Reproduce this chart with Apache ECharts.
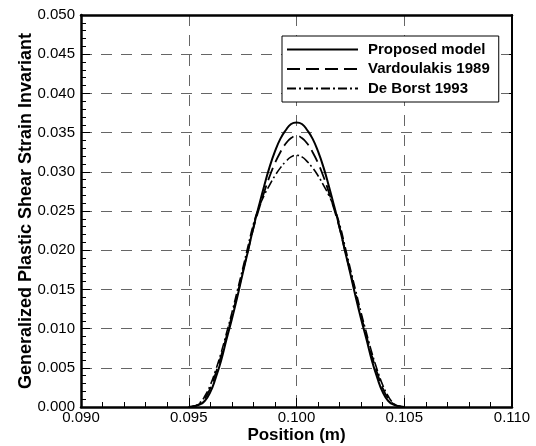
<!DOCTYPE html>
<html>
<head>
<meta charset="utf-8">
<script src="https://cdn.jsdelivr.net/npm/echarts@6/dist/echarts.min.js"></script>
<style>
  html, body { margin: 0; padding: 0; background: #fff; }
  #chart { width: 536px; height: 446px; }
</style>
</head>
<body>
<div id="chart"></div>
<script>
// position (m)
const positions = [
  0.095, 0.09525, 0.0955, 0.09575, 0.096, 0.09625, 0.0965, 0.09675, 0.097, 0.09725,
  0.0975, 0.09775, 0.098, 0.09825, 0.0985, 0.09875, 0.099, 0.09925, 0.0995, 0.09975,
  0.1, 0.10025, 0.1005, 0.10075, 0.101, 0.10125, 0.1015, 0.10175, 0.102, 0.10225,
  0.1025, 0.10275, 0.103, 0.10325, 0.1035, 0.10375, 0.104, 0.10425, 0.1045, 0.10475, 0.105
];
const proposed = [
  0, 0.0001, 0.0003, 0.0008, 0.0019, 0.0037, 0.0059, 0.0086, 0.0112, 0.0140,
  0.0170, 0.0199, 0.0229, 0.0256, 0.0282, 0.0306, 0.0326, 0.0342, 0.0353, 0.0361,
  0.0363, 0.0361, 0.0353, 0.0342, 0.0326, 0.0306, 0.0282, 0.0256, 0.0229, 0.0199,
  0.0170, 0.0140, 0.0112, 0.0086, 0.0059, 0.0037, 0.0019, 0.0008, 0.0003, 0.0001, 0
];
const vardoulakis = [
  0, 0.0001, 0.0004, 0.0011, 0.0024, 0.0043, 0.0065, 0.0090, 0.0116, 0.0143,
  0.0172, 0.0200, 0.0228, 0.0252, 0.0274, 0.0294, 0.0311, 0.0325, 0.0336, 0.0343,
  0.0346, 0.0343, 0.0336, 0.0325, 0.0311, 0.0294, 0.0274, 0.0252, 0.0228, 0.0200,
  0.0172, 0.0143, 0.0116, 0.0090, 0.0065, 0.0043, 0.0024, 0.0011, 0.0004, 0.0001, 0
];
const deBorst = [
  0, 0.0001, 0.0005, 0.0014, 0.0028, 0.0047, 0.0069, 0.0094, 0.0120, 0.0148,
  0.0176, 0.0205, 0.0233, 0.0254, 0.0270, 0.0283, 0.0295, 0.0305, 0.0313, 0.0319,
  0.0321, 0.0319, 0.0313, 0.0305, 0.0295, 0.0283, 0.0270, 0.0254, 0.0233, 0.0205,
  0.0176, 0.0148, 0.0120, 0.0094, 0.0069, 0.0047, 0.0028, 0.0014, 0.0005, 0.0001, 0
];
const seriesNames = ['Proposed model', 'Vardoulakis 1989', 'De Borst 1993'];

const font = '"Liberation Sans", Arial, Helvetica, sans-serif';

function pairs(ys) {
  return positions.map((x, i) => [x, ys[i]]);
}

function frameAxis(extra) {
  return Object.assign({
    type: 'value',
    axisLine: { show: true, onZero: false, lineStyle: { color: '#000', width: 2.5 } },
    axisTick: { show: true, inside: true, length: 9, lineStyle: { color: '#000', width: 1 } },
    minorTick: { show: true, splitNumber: 5, length: 5, lineStyle: { color: '#000', width: 1 } },
    splitLine: { show: false },
    axisLabel: { show: false }
  }, extra);
}

const gridDash = { color: '#666', width: 1, type: [11, 9] };

let option = {
  animation: false,
  backgroundColor: '#fff',
  grid: { left: 81, right: 24, top: 15, bottom: 39, outerBoundsMode: 'none' },
  legend: {
    orient: 'vertical',
    left: 282,
    top: 36,
    padding: [6, 9, 6, 4],
    itemGap: 4.5,
    itemWidth: 71,
    itemHeight: 14,
    borderColor: '#000',
    borderWidth: 1,
    backgroundColor: '#fff',
    itemStyle: { opacity: 0 },
    textStyle: { fontFamily: font, fontSize: 15, fontWeight: 'bold', color: '#000', padding: [0, 0, 0, 5] },
    data: seriesNames
  },
  xAxis: [
    frameAxis({
      min: 0.09, max: 0.11, interval: 0.005,
      name: 'Position (m)',
      nameLocation: 'middle',
      nameGap: 20,
      nameMoveOverlap: false,
      nameTextStyle: { fontFamily: font, fontSize: 17, fontWeight: 'bold', color: '#000' },
      splitLine: { show: true, lineStyle: gridDash },
      axisLabel: {
        show: true, margin: 3, color: '#000', fontFamily: font, fontSize: 15,
        formatter: v => v.toFixed(3)
      }
    }),
    frameAxis({
      min: 0.09, max: 0.11, interval: 0.005, position: 'top',
      axisTick: { show: false }, minorTick: { show: false }
    })
  ],
  yAxis: [
    frameAxis({
      min: 0, max: 0.05, interval: 0.005,
      name: 'Generalized Plastic Shear Strain Invariant',
      nameLocation: 'middle',
      nameGap: 46,
      nameMoveOverlap: false,
      nameTextStyle: { fontFamily: font, fontSize: 18, fontWeight: 'bold', color: '#000' },
      splitLine: { show: true, lineStyle: gridDash },
      axisLabel: {
        show: true, margin: 6, color: '#000', fontFamily: font, fontSize: 15,
        formatter: v => v.toFixed(3)
      }
    }),
    frameAxis({
      min: 0, max: 0.05, interval: 0.005, position: 'right',
      axisLine: { show: true, onZero: false, lineStyle: { color: '#000', width: 2 } },
      axisTick: { show: true, inside: true, length: 3, lineStyle: { color: '#000', width: 1 } },
      minorTick: { show: false }
    })
  ],
  series: [
    {
      name: seriesNames[0], type: 'line', smooth: true, symbol: 'none',
      data: pairs(proposed),
      lineStyle: { color: '#000', width: 2, type: 'solid' },
      itemStyle: { color: '#000' }
    },
    {
      name: seriesNames[1], type: 'line', smooth: true, symbol: 'none',
      data: pairs(vardoulakis),
      lineStyle: { color: '#000', width: 1.8, type: [13, 6] },
      itemStyle: { color: '#000' }
    },
    {
      name: seriesNames[2], type: 'line', smooth: true, symbol: 'none',
      data: pairs(deBorst),
      lineStyle: { color: '#000', width: 1.6, type: [9, 3, 2, 3] },
      itemStyle: { color: '#000' }
    }
  ]
};

echarts.init(document.getElementById('chart')).setOption(option);
</script>
</body>
</html>
